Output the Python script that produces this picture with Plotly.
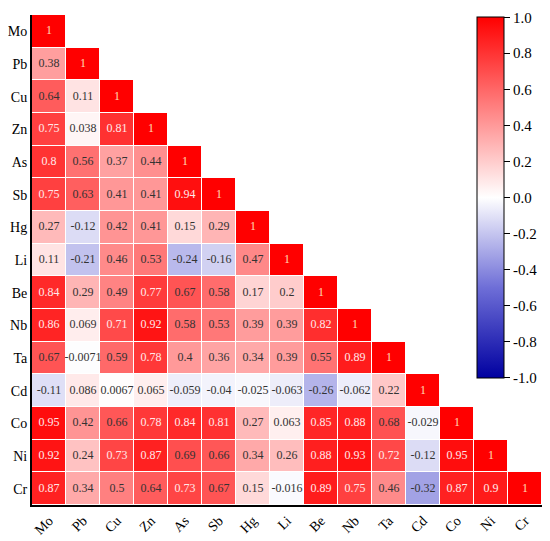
import plotly.graph_objects as go

elements = ['Mo', 'Pb', 'Cu', 'Zn', 'As', 'Sb', 'Hg', 'Li', 'Be', 'Nb',
            'Ta', 'Cd', 'Co', 'Ni', 'Cr']

# lower triangle of the correlation matrix, row by row
corr_rows = [
    [1],
    [0.38, 1],
    [0.64, 0.11, 1],
    [0.75, 0.038, 0.81, 1],
    [0.8, 0.56, 0.37, 0.44, 1],
    [0.75, 0.63, 0.41, 0.41, 0.94, 1],
    [0.27, -0.12, 0.42, 0.41, 0.15, 0.29, 1],
    [0.11, -0.21, 0.46, 0.53, -0.24, -0.16, 0.47, 1],
    [0.84, 0.29, 0.49, 0.77, 0.67, 0.58, 0.17, 0.2, 1],
    [0.86, 0.069, 0.71, 0.92, 0.58, 0.53, 0.39, 0.39, 0.82, 1],
    [0.67, -0.0071, 0.59, 0.78, 0.4, 0.36, 0.34, 0.39, 0.55, 0.89, 1],
    [-0.11, 0.086, 0.0067, 0.065, -0.059, -0.04, -0.025, -0.063, -0.26,
     -0.062, 0.22, 1],
    [0.95, 0.42, 0.66, 0.78, 0.84, 0.81, 0.27, 0.063, 0.85, 0.88, 0.68,
     -0.029, 1],
    [0.92, 0.24, 0.73, 0.87, 0.69, 0.66, 0.34, 0.26, 0.88, 0.93, 0.72,
     -0.12, 0.95, 1],
    [0.87, 0.34, 0.5, 0.64, 0.73, 0.67, 0.15, -0.016, 0.89, 0.75, 0.46,
     -0.32, 0.87, 0.9, 1],
]

cbar_ticks = [1.0, 0.8, 0.6, 0.4, 0.2, 0.0, -0.2, -0.4, -0.6, -0.8, -1.0]

n = len(elements)
z = [row + [None] * (n - len(row)) for row in corr_rows]

font_family = 'Liberation Serif'

# --- text labels, split by colour
groups = {'one': ([], [], []), 'light': ([], [], []), 'dark': ([], [], [])}
for i, row in enumerate(corr_rows):
    for j, v in enumerate(row):
        key = 'one' if v == 1 else ('light' if v >= 0.7 else 'dark')
        groups[key][0].append(elements[j])
        groups[key][1].append(elements[i])
        groups[key][2].append('1' if v == 1 else f'{v:g}')

text_colors = {'one': '#ffd9b3', 'light': '#ffe8e8', 'dark': '#333333'}

# end ticks nudged inside so plotly does not drop them
tick_pos = [max(min(t, 0.998), -0.998) for t in cbar_ticks]

fig = go.Figure()
fig.add_trace(go.Heatmap(
    z=z, x=elements, y=elements,
    zmin=-1, zmax=1,
    colorscale=[[0, 'rgb(0,0,160)'], [0.25, 'rgb(110,110,215)'],
                [0.5, 'rgb(255,255,255)'], [0.75, 'rgb(255,128,128)'],
                [1, 'rgb(255,0,0)']],
    xgap=1, ygap=1,
    hoverongaps=False,
    colorbar=dict(
        x=0.8725, xanchor='left', y=0.259, yanchor='bottom',
        len=0.737, lenmode='fraction', thickness=27, xpad=0, ypad=0,
        outlinecolor='black', outlinewidth=1,
        tickvals=tick_pos, ticktext=[f'{t:.1f}' for t in cbar_ticks],
        ticks='outside', ticklen=6, tickcolor='black',
        ticklabeloverflow='allow',
        tickfont=dict(family=font_family, size=15, color='black'),
    ),
))

for key, (xs, ys, ts) in groups.items():
    fig.add_trace(go.Scatter(
        x=xs, y=ys, text=ts, mode='text',
        textfont=dict(family=font_family, size=12, color=text_colors[key]),
        hoverinfo='skip', showlegend=False,
    ))

# page body adds an 8px offset, so the figure is sized 8px smaller
fig.update_layout(
    width=542, height=533,
    margin=dict(l=24, r=8, t=7, b=36, autoexpand=False),
    plot_bgcolor='white', paper_bgcolor='white',
    showlegend=False,
)
fig.update_xaxes(
    categoryorder='array', categoryarray=elements, range=[-0.5, n - 0.5],
    tickangle=-45, showgrid=False, zeroline=False, automargin=False,
    showline=True, linecolor='black', linewidth=2,
    ticks='', tickfont=dict(family=font_family, size=14, color='black'),
)
fig.update_yaxes(
    categoryorder='array', categoryarray=elements, range=[n - 0.5, -0.5],
    showgrid=False, zeroline=False, automargin=False,
    showline=True, linecolor='black', linewidth=2,
    ticks='', tickfont=dict(family=font_family, size=14, color='black'),
)

fig.write_html('out.html')
